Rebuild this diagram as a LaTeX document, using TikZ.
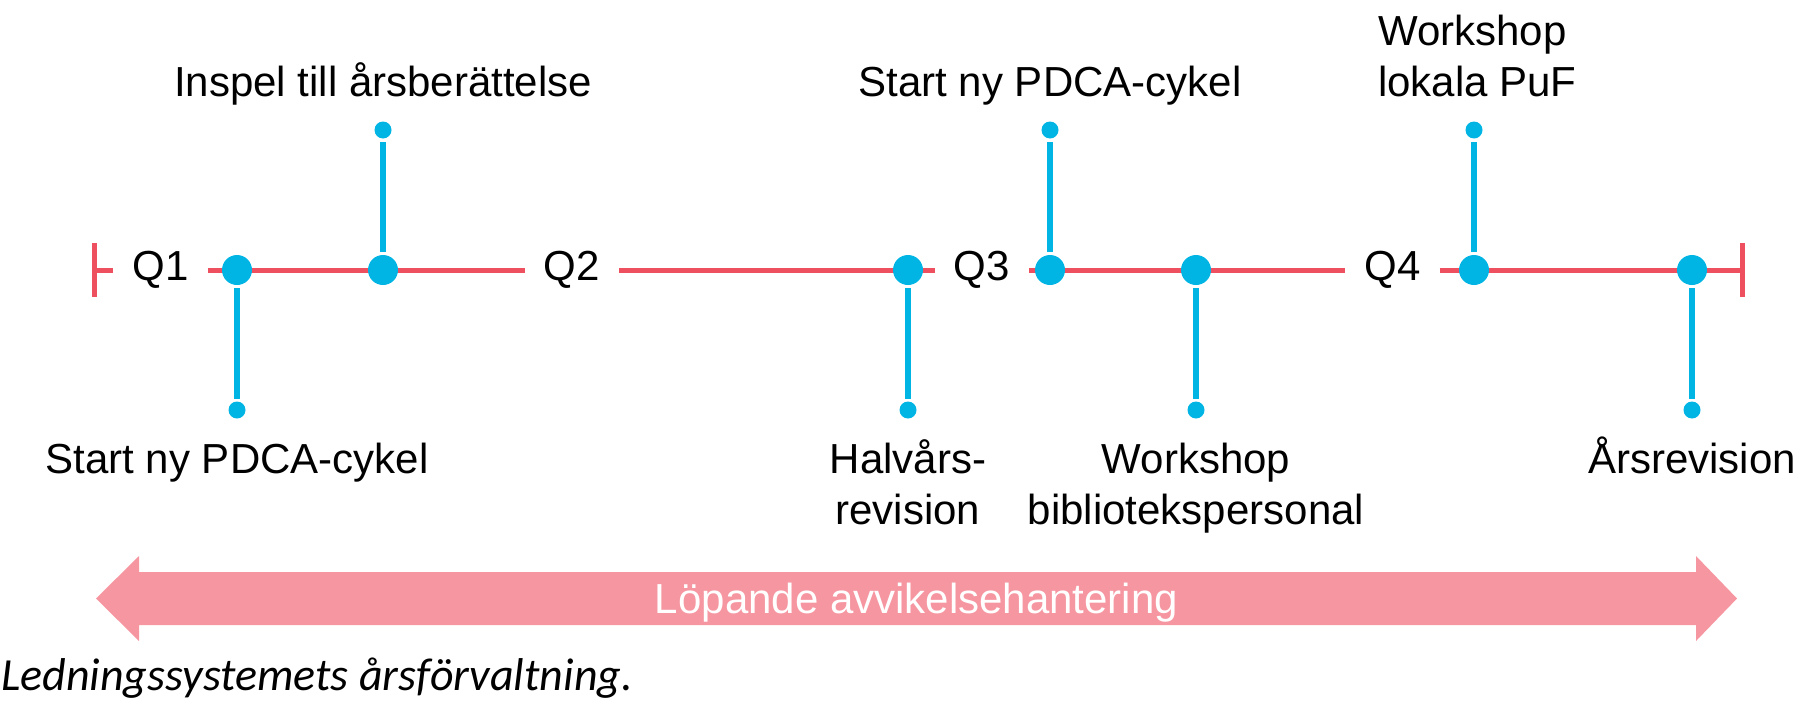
\documentclass[tikz,border=0pt]{standalone}
\usepackage{fontspec}
\setmainfont{Liberation Sans}
\newfontfamily\captionfont{Carlito}
\usetikzlibrary{positioning}

\definecolor{linered}{RGB}{239,80,96}
\definecolor{dotblue}{RGB}{0,180,228}
\definecolor{bandpink}{RGB}{246,150,161}

\begin{document}
\begin{tikzpicture}[x=1pt, y=-1pt]
    \tikzstyle{quarter} = [inner sep=0pt, minimum width=94pt,
	font=\fontsize{42}{51}\selectfont]
    \tikzstyle{event} = [circle, fill=dotblue, minimum size=30pt, inner sep=0pt]
    \tikzstyle{tip} = [circle, fill=dotblue, minimum size=17pt, inner sep=0pt]
    \tikzstyle{note} = [inner sep=0pt, anchor=base, align=center,
	font=\fontsize{42}{51}\selectfont]
    \tikzstyle{axis} = [line width=5pt, linered]
    \tikzstyle{stem} = [line width=6pt, dotblue]
    \tikzstyle{bandtext} = [inner sep=0pt, text=white, text height=34.5pt,
	text depth=5.5pt, font=\fontsize{42}{51}\selectfont]

	\useasboundingbox (0,0) rectangle (1812,707);

	% timeline with quarters
	\begin{scope}
		\path
			coordinate (start) at (94,270)
			coordinate (stop) at (1742,270)
			node[quarter] (Q1) at (160.5,270) {Q1}
			node[quarter] (Q2) at (572,270) {Q2}
			node[quarter] (Q3) at (982,270) {Q3}
			node[quarter] (Q4) at (1392.5,270) {Q4}
		;
		\draw[axis] (start) -- (Q1) -- (Q2) -- (Q3) -- (Q4) -- (stop);
		\draw[axis] ([yshift=27pt]start) -- ([yshift=-27pt]start);
		\draw[axis] ([yshift=27pt]stop) -- ([yshift=-27pt]stop);
	\end{scope}

	% events
	\begin{scope}
		\path[stem]
			node[event] (E1) at (237,270) {}
			node[event] (E2) at (383,270) {}
			node[event] (E3) at (908,270) {}
			node[event] (E4) at (1050,270) {}
			node[event] (E5) at (1196,270) {}
			node[event] (E6) at (1474,270) {}
			node[event] (E7) at (1692,270) {}

			node[tip] (T1) at (237,410) {}
			node[tip] (T2) at (383,130) {}
			node[tip] (T3) at (908,410) {}
			node[tip] (T4) at (1050,130) {}
			node[tip] (T5) at (1196,410) {}
			node[tip] (T6) at (1474,130) {}
			node[tip] (T7) at (1692,410) {}

			(E1) edge (T1)
			(E2) edge (T2)
			(E3) edge (T3)
			(E4) edge (T4)
			(E5) edge (T5)
			(E6) edge (T6)
			(E7) edge (T7)
		;
	\end{scope}

	% texts
	\path
		node[note] (N1) at (237,473) {Start ny PDCA-cykel}
		node[note] (N2) at (383,96) {Inspel till årsberättelse}
		node[note] (N3) at (908,524) {Halvårs-\\revision}
		node[note] (N4) at (1050,96) {Start ny PDCA-cykel}
		node[note] (N5) at (1196,524) {Workshop\\bibliotekspersonal}
		node[note, anchor=base west, align=left] (N6) at (1378,96) {Workshop\\lokala PuF}
		node[note] (N7) at (1692,473) {Årsrevision}
	;

	% running band
	\fill[bandpink] (96,598.5) -- (139,556) -- (139,572) -- (1696,572)
		-- (1696,556) -- (1737,598.5) -- (1696,641) -- (1696,625)
		-- (139,625) -- (139,641) -- cycle;
	\node[bandtext] (flow) at (916.5,598.5) {Löpande avvikelsehantering};

	\node[anchor=base west, inner sep=0pt,
	font=\captionfont\itshape\fontsize{46}{50}\selectfont] (caption)
		at (1,690) {Ledningssystemets årsförvaltning.};
\end{tikzpicture}
\end{document}
